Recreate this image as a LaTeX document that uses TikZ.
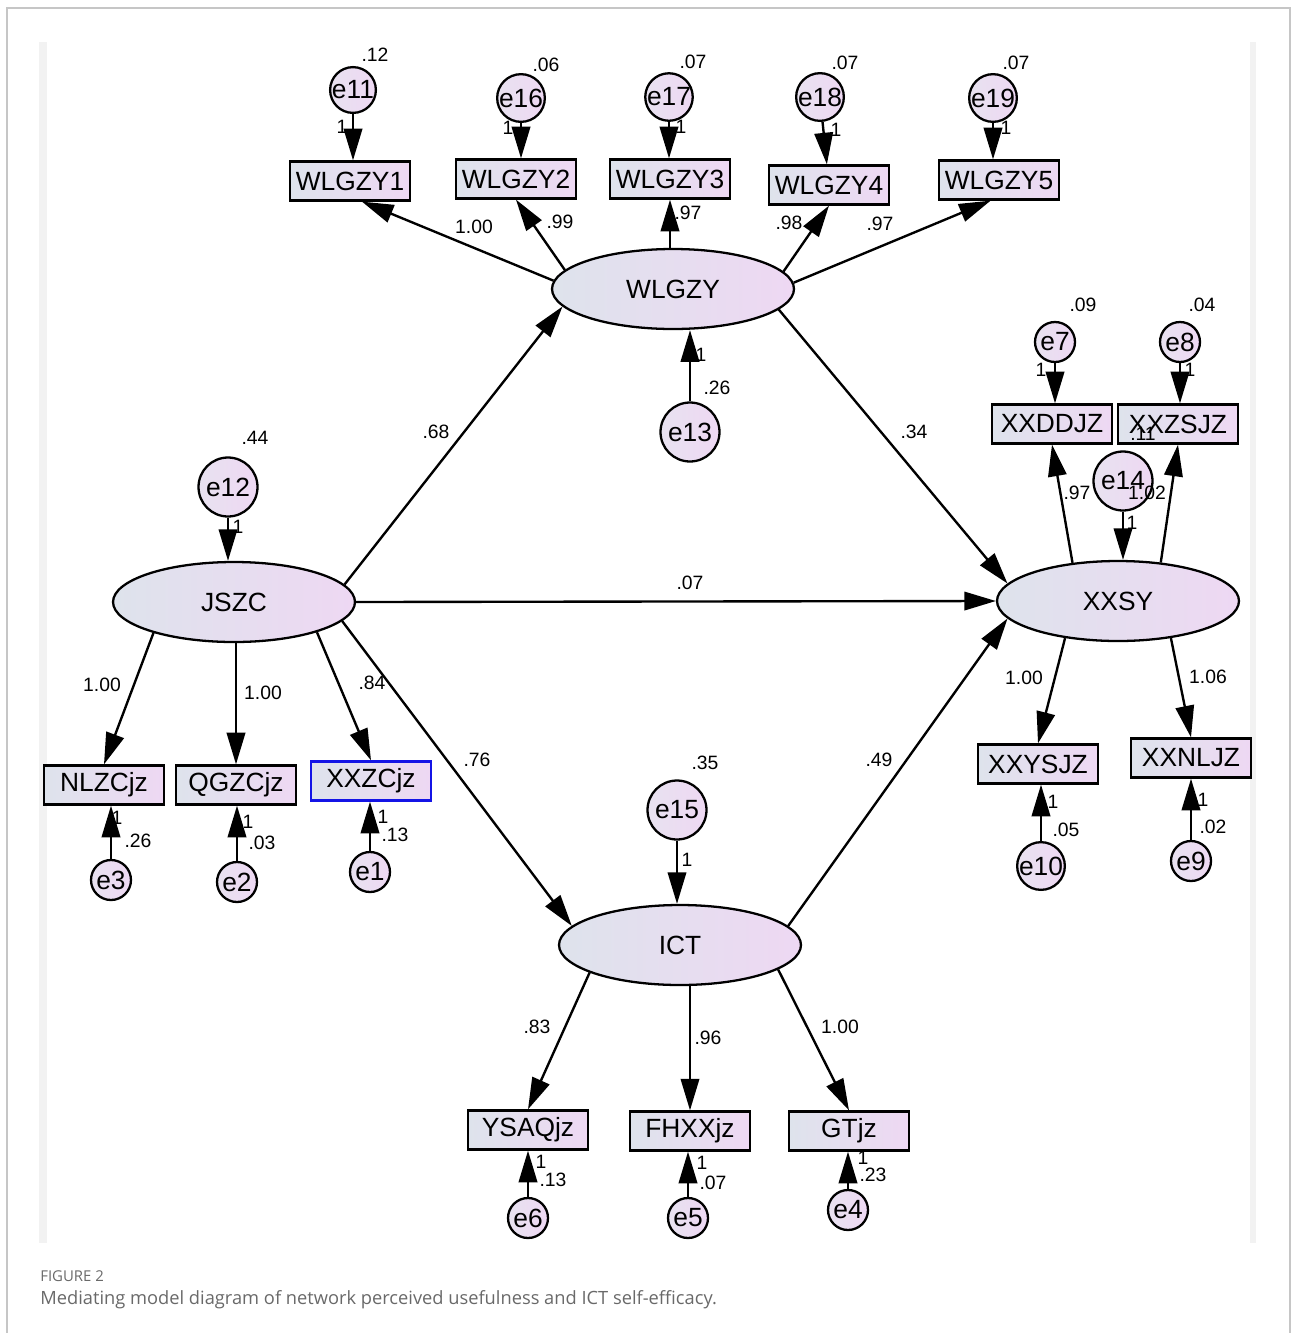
\documentclass[tikz,border=0pt]{standalone}
\usepackage{fontspec}
\setmainfont{Liberation Sans}
\newfontfamily\capfont{Open Sans}
\usetikzlibrary{arrows.meta,shapes.geometric}
\definecolor{shL}{RGB}{222,227,236}
\definecolor{shR}{RGB}{238,216,243}
\definecolor{ciL}{RGB}{232,226,240}
\definecolor{ciR}{RGB}{238,216,243}
\definecolor{capgray}{RGB}{105,105,105}
\definecolor{boxblue}{RGB}{20,20,230}
\begin{document}
\begin{tikzpicture}[x=0.02cm,y=-0.02cm,
  base/.style={draw=black,line width=1.3pt,inner sep=0pt,left color=shL,right color=shR,font=\fontsize{15}{16}\selectfont},
  obs/.style={base,rectangle,minimum width=2.4cm,minimum height=0.78cm},
  lat/.style={base,ellipse,minimum width=4.84cm,minimum height=1.6cm},
  err/.style={base,circle,minimum size=0.8cm,left color=ciL,right color=ciR},
  bigerr/.style={err,minimum size=1.18cm},
  num/.style={font=\fontsize{11}{12}\selectfont,inner sep=0pt},
  arr/.style={line width=1.35pt,-{Triangle[length=18pt,width=10.5pt]}}
]
\useasboundingbox (0,0) rectangle (1296,1333);
% frame
\draw[gray!45,line width=0.8pt] (7,1333) -- (7,8) -- (1290,8) -- (1290,1333);
\fill[gray!10] (39,42) rectangle (47,1243);
\fill[gray!10] (1250,42) rectangle (1256,1243);

% top indicators
\node[obs] (w1) at (350,181) {WLGZY1};
\node[obs] (w2) at (516,179) {WLGZY2};
\node[obs] (w3) at (670,179) {WLGZY3};
\node[obs] (w4) at (829,185) {WLGZY4};
\node[obs] (w5) at (999,180) {WLGZY5};
\node[err] (e11) at (353,90) {e11};
\node[err] (e16) at (521,98) {e16};
\node[err] (e17) at (669,97) {e17};
\node[err] (e18) at (820,97) {e18};
\node[err] (e19) at (993,98) {e19};

% latent variables
\node[lat] (wlgzy) at (673,289) {WLGZY};
\node[bigerr] (e13) at (690,432) {e13};
\node[lat] (jszc) at (234,602) {JSZC};
\node[bigerr] (e12) at (228,487) {e12};
\node[lat] (xxsy) at (1118,601) {XXSY};
\node[bigerr] (e14) at (1123,481) {e14};
\node[lat] (ict) at (680,945) {ICT};
\node[bigerr] (e15) at (677,810) {e15};

% XXSY indicators
\node[obs] (xxdd) at (1052,424) {XXDDJZ};
\node[obs] (xxzs) at (1178,424) {XXZSJZ};
\node[obs] (xxys) at (1038,764) {XXYSJZ};
\node[obs] (xxnl) at (1191,758) {XXNLJZ};
\node[err] (e7) at (1055,342) {e7};
\node[err] (e8) at (1180,342) {e8};
\node[err] (e10) at (1041,866) {e10};
\node[err] (e9) at (1191,861) {e9};

% JSZC indicators
\node[obs] (nlzc) at (104,785) {NLZCjz};
\node[obs] (qgzc) at (236,785) {QGZCjz};
\node[obs,draw=boxblue] (xxzc) at (371,781) {XXZCjz};
\node[err] (e3) at (111,880) {e3};
\node[err] (e2) at (237,882) {e2};
\node[err] (e1) at (370,872) {e1};

% ICT indicators
\node[obs] (ysaq) at (528,1130) {YSAQjz};
\node[obs] (fhxx) at (690,1131) {FHXXjz};
\node[obs] (gtjz) at (849,1131) {GTjz};
\node[err] (e6) at (528,1218) {e6};
\node[err] (e5) at (688,1218) {e5};
\node[err] (e4) at (848,1210) {e4};

% error arrows
\draw[arr] (e11) -- (e11 |- w1.north);
\draw[arr] (e16) -- (e16 |- w2.north);
\draw[arr] (e17) -- (e17 |- w3.north);
\draw[arr] (e18) -- (w4);
\draw[arr] (e19) -- (e19 |- w5.north);
\draw[arr] (e13) -- (e13 |- wlgzy.south);
\draw[arr] (e12) -- (e12 |- jszc.north);
\draw[arr] (e14) -- (e14 |- xxsy.north);
\draw[arr] (e15) -- (e15 |- ict.north);
\draw[arr] (e7) -- (e7 |- xxdd.north);
\draw[arr] (e8) -- (e8 |- xxzs.north);
\draw[arr] (e10) -- (e10 |- xxys.south);
\draw[arr] (e9) -- (e9 |- xxnl.south);
\draw[arr] (e3) -- (e3 |- nlzc.south);
\draw[arr] (e2) -- (e2 |- qgzc.south);
\draw[arr] (e1) -- (e1 |- xxzc.south);
\draw[arr] (e6) -- (e6 |- ysaq.south);
\draw[arr] (e5) -- (e5 |- fhxx.south);
\draw[arr] (e4) -- (e4 |- gtjz.south);

% loadings
\draw[arr] (wlgzy.176) -- (w1.-60);
\draw[arr] (wlgzy.170) -- (w2.south);
\draw[arr] (w3.south |- wlgzy.north) -- (w3.south);
\draw[arr] (wlgzy.9) -- (w4.south);
\draw[arr] (wlgzy.3) -- (w5.-112);
\draw[arr] (jszc.201) -- (nlzc.north);
\draw[arr] (qgzc.north |- jszc.south) -- (qgzc.north);
\draw[arr] (jszc.-20) -- (xxzc.north);
\draw[arr] (xxsy.140) -- (xxdd.south);
\draw[arr] (xxsy.42) -- (xxzs.south);
\draw[arr] (xxsy.215) -- (xxys.north);
\draw[arr] (xxsy.-35) -- (xxnl.north);
\draw[arr] (ict.197) -- (ysaq.north);
\draw[arr] (fhxx.north |- ict.south) -- (fhxx.north);
\draw[arr] (ict.-14) -- (gtjz.north);

% structural paths
\draw[arr] (jszc.9) -- (wlgzy.189);
\draw[arr] (jszc.east) -- (xxsy.west);
\draw[arr] (jszc.-10) -- (ict.170);
\draw[arr] (wlgzy.-11) -- (xxsy.171);
\draw[arr] (ict.10) -- (xxsy.189);

% labels: top
\node[num] (t1) at (375,55) {.12};
\node[num] (t2) at (546,65) {.06};
\node[num] (t3) at (693,62) {.07};
\node[num] (t4) at (845,63) {.07};
\node[num] (t5) at (1016,63) {.07};
\node[num] (u1) at (342,127) {1};
\node[num] (u2) at (508,128) {1};
\node[num] (u3) at (681,127) {1};
\node[num] (u4) at (836,130) {1};
\node[num] (u5) at (1006,128) {1};
\node[num] (l1) at (474,227) {1.00};
\node[num] (l2) at (560,222) {.99};
\node[num] (l3) at (688,213) {.97};
\node[num] (l4) at (789,223) {.98};
\node[num] (l5) at (880,224) {.97};
\node[num] (u13) at (701,355) {1};
\node[num] (v13) at (717,388) {.26};
% structural labels
\node[num] (s1) at (436,432) {.68};
\node[num] (s2) at (690,583) {.07};
\node[num] (s3) at (477,760) {.76};
\node[num] (s4) at (914,432) {.34};
\node[num] (s5) at (879,760) {.49};
% JSZC labels
\node[num] (v12) at (255,438) {.44};
\node[num] (u12) at (238,527) {1};
\node[num] (l6) at (102,685) {1.00};
\node[num] (l7) at (263,693) {1.00};
\node[num] (l8) at (372,683) {.84};
\node[num] (u3b) at (117,818) {1};
\node[num] (v3) at (138,841) {.26};
\node[num] (u2b) at (248,822) {1};
\node[num] (v2) at (262,843) {.03};
\node[num] (u1b) at (383,817) {1};
\node[num] (v1) at (395,835) {.13};
% XXSY labels
\node[num] (v7) at (1083,305) {.09};
\node[num] (v8) at (1202,305) {.04};
\node[num] (u7) at (1041,370) {1};
\node[num] (u8) at (1190,370) {1};
\node[num] (v14) at (1143,434) {.11};
\node[num] (l9) at (1077,493) {.97};
\node[num] (l10) at (1147,493) {1.02};
\node[num] (u14) at (1132,523) {1};
\node[num] (l11) at (1024,678) {1.00};
\node[num] (l12) at (1208,677) {1.06};
\node[num] (u10) at (1053,802) {1};
\node[num] (v10) at (1066,830) {.05};
\node[num] (u9) at (1203,800) {1};
\node[num] (v9) at (1213,827) {.02};
% ICT labels
\node[num] (v15) at (705,763) {.35};
\node[num] (u15) at (687,860) {1};
\node[num] (l13) at (537,1027) {.83};
\node[num] (l14) at (708,1038) {.96};
\node[num] (l15) at (840,1027) {1.00};
\node[num] (u6) at (541,1162) {1};
\node[num] (v6) at (553,1180) {.13};
\node[num] (u5b) at (702,1163) {1};
\node[num] (v5) at (713,1183) {.07};
\node[num] (u4b) at (863,1158) {1};
\node[num] (v4) at (873,1175) {.23};

% caption
\node[anchor=west,inner sep=0pt,text=capgray,font=\capfont\fontsize{8.5}{10}\selectfont] (fig) at (40,1276) {FIGURE 2};
\node[anchor=west,inner sep=0pt,text=capgray,font=\capfont\fontsize{10.4}{12}\selectfont] (cap) at (40,1300) {Mediating model diagram of network perceived usefulness and ICT self-efficacy.};
\end{tikzpicture}
\end{document}
